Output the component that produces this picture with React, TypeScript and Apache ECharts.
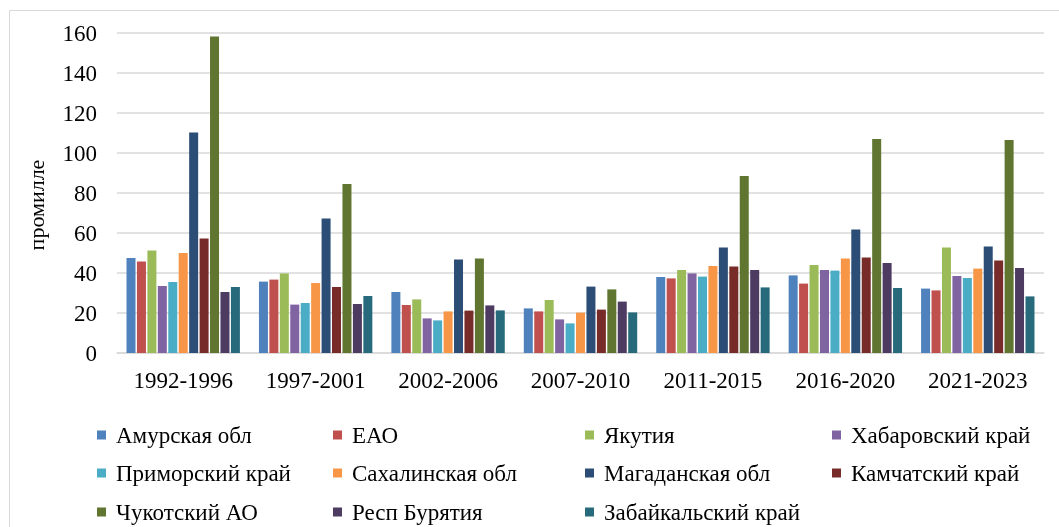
import React, { useEffect, useRef } from "react";
import * as echarts from "echarts";

const categories = ["1992-1996", "1997-2001", "2002-2006", "2007-2010", "2011-2015", "2016-2020", "2021-2023"];

const regionNames = [
  "Амурская обл",
  "ЕАО",
  "Якутия",
  "Хабаровский край",
  "Приморский край",
  "Сахалинская обл",
  "Магаданская обл",
  "Камчатский край",
  "Чукотский АО",
  "Респ Бурятия",
  "Забайкальский край",
];

const amur = [47.5, 35.7, 30.5, 22.3, 38.0, 38.8, 32.2];
const eao = [45.7, 36.7, 24.0, 20.8, 37.3, 34.7, 31.3];
const yakutia = [51.2, 39.8, 26.8, 26.5, 41.5, 44.0, 52.8];
const khabarovsk = [33.5, 24.2, 17.3, 16.8, 39.8, 41.5, 38.5];
const primorsky = [35.5, 25.0, 16.3, 14.8, 38.2, 41.2, 37.5];
const sakhalin = [50.0, 35.0, 20.8, 20.2, 43.5, 47.2, 42.2];
const magadan = [110.3, 67.2, 46.8, 33.2, 52.8, 61.8, 53.3];
const kamchatka = [57.2, 33.0, 21.2, 21.7, 43.3, 47.8, 46.2];
const chukotka = [158.2, 84.5, 47.2, 31.8, 88.5, 107.0, 106.5];
const buryatia = [30.5, 24.5, 23.8, 25.7, 41.5, 45.0, 42.5];
const zabaikalsky = [33.0, 28.5, 21.3, 20.3, 32.8, 32.5, 28.3];

const seriesValues = [amur, eao, yakutia, khabarovsk, primorsky, sakhalin, magadan, kamchatka, chukotka, buryatia, zabaikalsky];

const colors = [
  "#4F81BD",
  "#C0504D",
  "#9BBB59",
  "#8064A2",
  "#4BACC6",
  "#F79646",
  "#2C4D75",
  "#772C2A",
  "#5F7530",
  "#4D3B62",
  "#276A7C",
];

const yTicks = { min: 0, max: 160, interval: 20 };
const yAxisTitle = "промилле";

// legend layout: 4 columns x 3 rows
const legendColLefts = [97, 333, 585, 832];
const legendRowCenters = [435, 473, 512];

const FONT = "'Liberation Serif', 'Times New Roman', serif";
const FS = 23;

export default function App() {
  const ref = useRef<HTMLDivElement>(null);

  useEffect(() => {
    if (!ref.current) return;
    const chart = echarts.init(ref.current, undefined, { renderer: "svg" });
    chart.setOption({
      animation: false,
      color: colors,
      textStyle: { fontFamily: FONT },
      graphic: [
        {
          type: "rect",
          shape: { x: 9.5, y: 10.5, width: 1100, height: 600 },
          style: { fill: "none", stroke: "#d9d9d9", lineWidth: 1 },
          silent: true,
        },
        {
          type: "text",
          x: 36,
          y: 205,
          rotation: Math.PI / 2,
          style: {
            text: yAxisTitle,
            fontFamily: FONT,
            fontSize: 22,
            fill: "#000",
            align: "center",
            verticalAlign: "middle",
          },
          silent: true,
        },
      ],
      grid: { left: 117, right: 15, top: 33, bottom: 174, containLabel: false },
      legend: regionNames.map((name, i) => ({
        data: [name],
        orient: "horizontal",
        left: legendColLefts[i % 4],
        top: legendRowCenters[Math.floor(i / 4)] - FS / 2,
        itemWidth: 9,
        itemHeight: 9,
        icon: "rect",
        padding: 0,
        textStyle: { fontFamily: FONT, fontSize: FS, color: "#000", lineHeight: FS, padding: [0, 0, 0, 5] },
      })),
      xAxis: {
        type: "category",
        data: categories,
        axisLine: { lineStyle: { color: "#d9d9d9", width: 1.5 } },
        axisTick: { show: false },
        axisLabel: { fontFamily: FONT, fontSize: FS, color: "#000", margin: 16 },
      },
      yAxis: {
        type: "value",
        min: yTicks.min,
        max: yTicks.max,
        interval: yTicks.interval,
        axisLine: { show: false },
        axisTick: { show: false },
        axisLabel: { fontFamily: FONT, fontSize: FS, color: "#000", margin: 20 },
        splitLine: { lineStyle: { color: "#d9d9d9", width: 1.5 } },
      },
      series: regionNames.map((name, i) => ({
        name,
        type: "bar",
        data: seriesValues[i],
        barWidth: 9,
        barGap: "16%",
        itemStyle: { color: colors[i] },
      })),
    });
    return () => chart.dispose();
  }, []);

  return <div ref={ref} style={{ position: "fixed", left: 0, top: 0, width: 1059, height: 527 }} />;
}
